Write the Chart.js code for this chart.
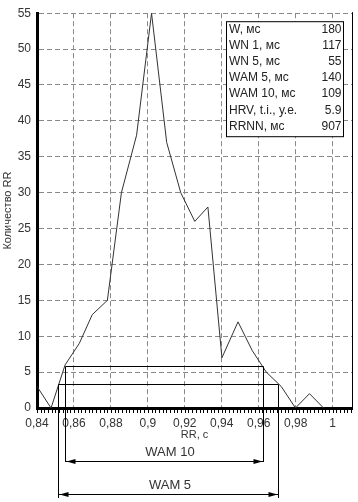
<!DOCTYPE html>
<html><head><meta charset="utf-8">
<script src="https://cdn.jsdelivr.net/npm/chart.js@4.4.0/dist/chart.umd.min.js"></script>
<style>html,body{margin:0;padding:0;background:#fff;overflow:hidden}</style>
</head><body>
<canvas id="c" width="358" height="502"></canvas>
<script>
// ---- data ----
const rrValues = [0.8400,0.8476,0.8552,0.8629,0.8699,0.8781,0.8857,0.8939,0.9020,0.9102,0.9178,0.9254,0.9325,0.9401,0.9488,0.9565,0.9641,0.9722,0.9799,0.9875,0.9951];
const rrCounts = [3,0,6,9,13,15,30,38,55,37,30,26,28,7,12,8,5,3,0,2,0];
const xMin = 0.84, xMax = 1.0105, xMajorStep = 0.02, xMinorStep = 0.002;
const yMin = 0, yMax = 55, yStep = 5;
const statLabels = ['W, мс','WN 1, мс','WN 5, мс','WAM 5, мс','WAM 10, мс','HRV, t.i., у.е.','RRNN, мс'];
const statValues = ['180','117','55','140','109','5.9','907'];
const wamNames = ['WAM 10','WAM 5'];
const wamFrom  = [0.8552, 0.8514];
const wamTo    = [0.9624, 0.9706];
const wamLevel = [5.8, 3.3];

const FONT = "'Liberation Sans', Arial, sans-serif";
const isMajor = v => v != null && Math.abs(v / xMajorStep - Math.round(v / xMajorStep)) < 1e-6;

const overlay = {
  id: 'overlay',
  afterDraw(chart) {
    const {ctx, chartArea: a, scales: {x, y}} = chart;
    ctx.save();
    ctx.strokeStyle = '#000'; ctx.fillStyle = '#000'; ctx.lineWidth = 1;
    // right border
    ctx.beginPath(); ctx.moveTo(a.right + 0.5, a.top - 1); ctx.lineTo(a.right + 0.5, a.bottom); ctx.stroke();
    // x tick marks (major + minor)
    ctx.beginPath();
    for (let i = 0; i < 200; i++) {
      const v = xMin + i * xMinorStep;
      if (v > xMax) break;
      const px = Math.round(x.getPixelForValue(v)) + 0.5;
      ctx.moveTo(px, a.bottom + 1); ctx.lineTo(px, a.bottom + 5);
    }
    ctx.stroke();
    // WAM brackets
    ctx.font = '13px ' + FONT;
    ctx.textAlign = 'center'; ctx.textBaseline = 'middle';
    const arrowOff = [53, 86], lineEnd = [54, 90];
    wamNames.forEach((name, i) => {
      const x1 = Math.round(x.getPixelForValue(wamFrom[i])) + 0.5;
      const x2 = Math.round(x.getPixelForValue(wamTo[i])) + 0.5;
      const yl = Math.round(y.getPixelForValue(wamLevel[i])) + 0.5;
      const ya = a.bottom + arrowOff[i] + 0.5;
      const ye = a.bottom + lineEnd[i];
      ctx.strokeStyle = '#000'; ctx.fillStyle = '#000';
      ctx.beginPath();
      ctx.moveTo(x1, ye); ctx.lineTo(x1, yl); ctx.lineTo(x2, yl); ctx.lineTo(x2, ye);
      ctx.moveTo(x1, ya); ctx.lineTo(x2, ya);
      ctx.stroke();
      ctx.beginPath();
      ctx.moveTo(x1 + 1, ya); ctx.lineTo(x1 + 10, ya - 2.5); ctx.lineTo(x1 + 10, ya + 2.5); ctx.closePath();
      ctx.moveTo(x2 - 1, ya); ctx.lineTo(x2 - 10, ya - 2.5); ctx.lineTo(x2 - 10, ya + 2.5); ctx.closePath();
      ctx.fill();
      ctx.fillStyle = '#333';
      ctx.fillText(name, a.left + 133, ya - 9);
    });
    // stats box
    const bw = 117, bh = 115;
    const bx = Math.round(a.right - 9 - bw) + 0.5, by = a.top + 8.5;
    ctx.fillStyle = '#fff';
    ctx.fillRect(bx, by, bw, bh);
    ctx.strokeStyle = '#000';
    ctx.strokeRect(bx, by, bw, bh);
    ctx.font = '12px ' + FONT;
    ctx.fillStyle = '#222';
    statLabels.forEach((lab, i) => {
      const cy = by + 7.5 + i * 16.2;
      ctx.textAlign = 'left'; ctx.fillText(lab, bx + 2.5, cy);
      ctx.textAlign = 'right'; ctx.fillText(statValues[i], bx + bw - 2, cy);
    });
    ctx.restore();
  }
};

new Chart(document.getElementById('c'), {
  type: 'scatter',
  data: {
    datasets: [{
      data: rrValues.map((v, i) => ({x: v, y: rrCounts[i]})),
      showLine: true,
      borderColor: '#333',
      borderWidth: 1,
      pointRadius: 0,
      tension: 0
    }]
  },
  options: {
    responsive: false,
    animation: false,
    events: [],
    layout: {padding: {left: 0, top: 10, right: 6, bottom: 0}},
    plugins: {legend: {display: false}, tooltip: {enabled: false}},
    scales: {
      x: {
        type: 'linear', min: xMin, max: xMax,
        afterFit: s => { s.height = 94; },
        ticks: {
          stepSize: xMajorStep, includeBounds: false, autoSkip: false, maxRotation: 0, minRotation: 0, padding: 8,
          color: '#333', font: {family: FONT, size: 12},
          callback: v => isMajor(v) ? String(Math.round(v * 100) / 100).replace('.', ',') : ''
        },
        grid: {
          drawTicks: false, lineWidth: 1,
          color: c => (c.tick && isMajor(c.tick.value)) ? '#888' : 'rgba(0,0,0,0)'
        },
        border: {display: true, color: '#000', width: 3, dash: [5, 3]},
        title: {display: true, text: 'RR, с', color: '#333', font: {family: FONT, size: 11}, padding: {top: 0, bottom: 60}}
      },
      y: {
        min: yMin, max: yMax,
        afterFit: s => { s.width = 37; },
        ticks: {stepSize: yStep, padding: 6, color: '#333', font: {family: FONT, size: 12}},
        grid: {drawTicks: false, color: '#888', lineWidth: 1},
        border: {display: true, color: '#000', width: 3, dash: [5, 3]},
        title: {display: true, text: 'Количество RR', color: '#333', font: {family: FONT, size: 11}, padding: {top: 1, bottom: 0}}
      }
    }
  },
  plugins: [overlay]
});
</script>
</body></html>
